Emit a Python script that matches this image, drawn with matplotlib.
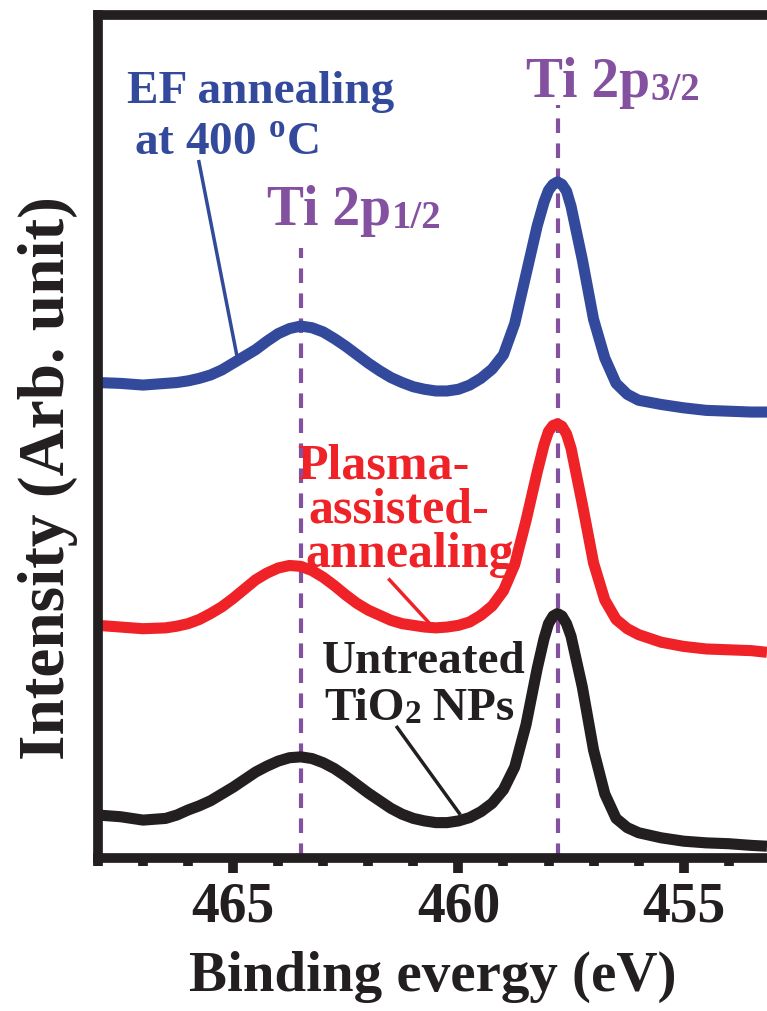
import numpy as np
import matplotlib
matplotlib.use('Agg')
import matplotlib.pyplot as plt

plt.rcParams['font.family'] = ['Liberation Serif', 'DejaVu Serif']
plt.rcParams['font.weight'] = 'bold'
plt.rcParams['mathtext.fontset'] = 'custom'
plt.rcParams['mathtext.rm'] = 'Liberation Serif:bold'
plt.rcParams['mathtext.bf'] = 'Liberation Serif:bold'

# Binding energy (eV)
energy = [468.0, 467.5, 467.0, 466.5, 466.25, 466.0, 465.75, 465.5, 465.25, 465.0,
          464.75, 464.5, 464.25, 464.0, 463.75, 463.5, 463.25, 463.0, 462.75, 462.5,
          462.25, 462.0, 461.75, 461.5, 461.25, 461.0, 460.75, 460.5, 460.25, 460.0,
          459.75, 459.5, 459.25, 459.0, 458.75, 458.5, 458.25, 458.1, 458.0, 457.9,
          457.8, 457.7, 457.6, 457.5, 457.25, 457.0, 456.75, 456.5, 456.25, 456.0,
          455.5, 455.0, 454.5, 454.0, 453.5, 453.15]

# Intensities (arb.), offset stacked as in the figure
untreated = [5.1, 4.9, 4.5, 4.7, 5.1, 5.7, 6.2, 6.8, 7.6, 8.4,
             9.3, 10.2, 10.9, 11.5, 11.9, 12.0, 11.8, 11.3, 10.6, 9.7,
             8.7, 7.7, 6.8, 5.9, 5.2, 4.7, 4.4, 4.2, 4.2, 4.4,
             4.8, 5.5, 6.5, 8.1, 10.8, 15.8, 22.5, 26.0, 27.8, 28.7,
             29.0, 28.7, 27.8, 26.3, 20.3, 12.8, 7.6, 4.7, 3.6, 3.0,
             2.4, 2.0, 1.8, 1.7, 1.5, 1.4]
plasma = [27.6, 27.4, 27.2, 27.3, 27.5, 27.8, 28.3, 29.0, 29.8, 30.8,
          31.9, 33.0, 33.8, 34.4, 34.7, 34.6, 34.1, 33.3, 32.3, 31.2,
          30.2, 29.4, 28.8, 28.2, 27.8, 27.6, 27.4, 27.3, 27.4, 27.6,
          28.0, 28.8, 29.9, 31.7, 34.8, 40.0, 45.8, 49.0, 50.6, 51.3,
          51.5, 51.2, 50.3, 48.6, 42.0, 35.0, 30.6, 28.3, 27.2, 26.5,
          25.6, 25.1, 24.8, 24.7, 24.6, 24.4]
ef_anneal = [56.4, 56.3, 56.1, 56.3, 56.4, 56.6, 56.9, 57.3, 57.9, 58.7,
             59.5, 60.3, 61.3, 62.2, 62.8, 63.1, 62.9, 62.4, 61.6, 60.7,
             59.7, 58.7, 57.8, 57.0, 56.4, 55.9, 55.6, 55.4, 55.4, 55.6,
             56.1, 56.9, 58.0, 59.7, 63.4, 69.2, 75.0, 77.8, 79.2, 79.9,
             80.2, 79.9, 79.1, 77.3, 71.0, 63.9, 59.3, 56.3, 55.0, 54.3,
             53.8, 53.4, 53.1, 53.0, 52.9, 52.9]

peak_pos = [463.5, 457.8]
peak_top = [72.3, 89.3]

blue = '#334a9c'
red = '#ee2227'
black = '#231f20'
purple = '#8450a0'

fig = plt.figure(figsize=(7.67, 10.11), dpi=100)
ax = fig.add_axes([98 / 767, 0.1513, 1 - 98 / 767, 0.8339])

for xp, yt in zip(peak_pos, peak_top):
    ax.plot([xp, xp], [0, yt], color=purple, lw=3, ls=(0, (3.5, 2.5)), zorder=1)

for series, col in [(ef_anneal, blue), (plasma, red), (untreated, black)]:
    ax.plot(energy, series, color=col, lw=8, solid_joinstyle='round',
            solid_capstyle='butt', zorder=2)

ax.set_xlim(468, 453.15)
ax.set_ylim(0, 100)
ax.set_xticks([465, 460, 455])
ax.set_xticks(np.arange(468, 453, -1), minor=True)
ax.set_yticks([])
for s in ['left', 'top', 'bottom']:
    ax.spines[s].set_linewidth(7)
    ax.spines[s].set_color(black)
ax.spines['right'].set_visible(False)
ax.tick_params(axis='x', which='major', direction='out', length=11, width=7,
               labelsize=40, pad=6, color=black, labelcolor=black)
ax.tick_params(axis='x', which='minor', direction='out', length=6, width=7, color=black)
ax.set_xlabel('Binding evergy (eV)', fontsize=41, fontweight='bold', color=black, labelpad=12)
fig.text(48 / 767, 1 - 478 / 1011, 'Intensity (Arb. unit)', rotation=90, fontsize=47,
         fontweight='bold', color=black, ha='center', va='center')

# peak labels
t = ax.text(464.24, 75.1, 'Ti 2p', color=purple, fontsize=40, ha='left', va='baseline')
ax.annotate('1/2', xy=(1, 0), xycoords=t, color=purple, fontsize=28, ha='left', va='bottom')
t = ax.text(458.49, 90.3, 'Ti 2p', color=purple, fontsize=40, ha='left', va='baseline')
ax.annotate('3/2', xy=(1, 0), xycoords=t, color=purple, fontsize=28, ha='left', va='bottom')

# series labels
ax.text(467.36, 89.6, 'EF annealing', color=blue, fontsize=34, ha='left', va='baseline')
ax.text(467.2, 83.4, 'at 400 $^{\\mathbf{o}}$C', color=blue, fontsize=34, ha='left', va='baseline')
ax.plot([465.76, 464.91], [82.6, 59.4], color=blue, lw=2.5)

ax.text(459.76, 46.5, 'Plasma-', color=red, fontsize=36, ha='right', va='center')
ax.text(459.31, 41.2, 'assisted-', color=red, fontsize=36, ha='right', va='center')
ax.text(458.76, 36.0, 'annealing', color=red, fontsize=36, ha='right', va='center')
ax.plot([461.53, 460.6], [33.0, 27.6], color=red, lw=2.5)

ax.text(463.04, 21.9, 'Untreated', color=black, fontsize=34, ha='left', va='baseline')
t = ax.text(462.98, 16.4, 'TiO', color=black, fontsize=34, ha='left', va='baseline')
a = ax.annotate('2', xy=(1, 0), xycoords=t, color=black, fontsize=24, ha='left', va='bottom')
ax.annotate(' NPs', xy=(1, 0), xycoords=(a, t), color=black, fontsize=34, ha='left', va='bottom')
ax.plot([461.36, 459.98], [15.5, 5.3], color=black, lw=2.5)

fig.savefig('out.png', dpi=100)
